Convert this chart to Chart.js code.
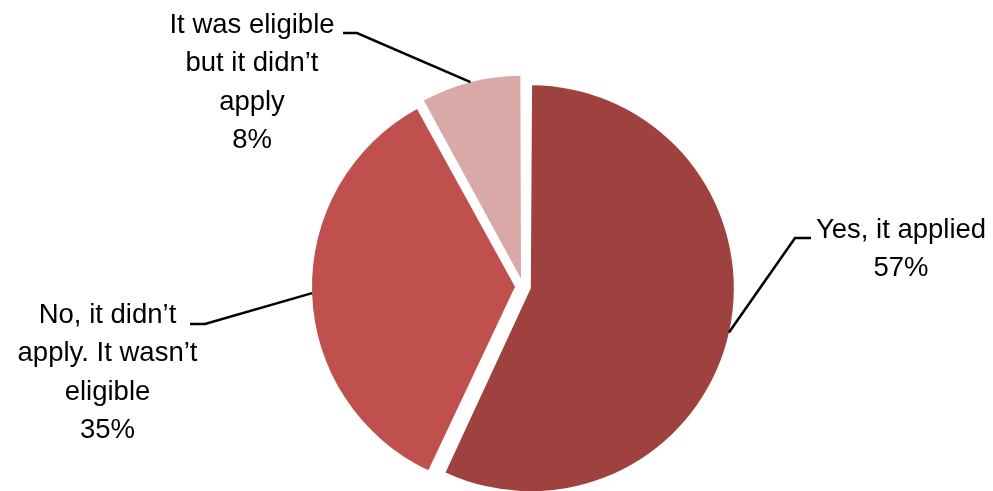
<!DOCTYPE html>
<html><head><meta charset="utf-8">
<script src="https://cdn.jsdelivr.net/npm/chart.js@4"></script>
<style>html,body{margin:0;padding:0;background:#fff}#wrap{width:993px;height:491px;position:relative}</style>
</head><body><div id="wrap"><canvas id="c" width="993" height="491"></canvas></div>
<script>
const categories = ["Yes, it applied", "No, it didn’t apply. It wasn’t eligible", "It was eligible but it didn’t apply"];
const values = [57, 35, 8];
const labelLines = [["Yes, it applied"], ["No, it didn’t", "apply. It wasn’t", "eligible"], ["It was eligible", "but it didn’t", "apply"]];
const colors = ["#9E413F", "#C0504D", "#D9A9A8"];

const EXPLODE = 8, R = 203, LINE_H = 38.4;
const FONT = '27.5px "Liberation Sans", Arial, sans-serif';
// label layout: text centre x, first baseline y, leader start (text side) and elbow
const labelLayout = [
  {x: 901, y: 238, sx: 811, sy: 238, ex: 795, ey: 238},
  {x: 107.5, y: 323, sx: 190, sy: 324, ex: 205, ey: 324},
  {x: 252, y: 33, sx: 343, sy: 33, ex: 357, ey: 33}
];

const explodeFix = {
  id: 'explodeFix',
  afterDatasetUpdate(chart, args) {
    const meta = chart.getDatasetMeta(args.index);
    meta.data.forEach(arc => {
      const c = arc.endAngle - arc.startAngle;
      const fix = 1 - Math.sin(Math.min(Math.PI, c));
      arc.outerRadius = R - EXPLODE * fix;
    });
  }
};

const pieLabels = {
  id: 'pieLabels',
  afterDraw(chart) {
    const ctx = chart.ctx;
    const meta = chart.getDatasetMeta(0);
    ctx.save();
    meta.data.forEach((arc, i) => {
      const h = (arc.startAngle + arc.endAngle) / 2;
      const ax = arc.x + Math.cos(h) * (EXPLODE + R);
      const ay = arc.y + Math.sin(h) * (EXPLODE + R);
      const L = labelLayout[i];
      ctx.strokeStyle = '#000';
      ctx.lineWidth = 2.5;
      ctx.beginPath();
      ctx.moveTo(L.sx, L.sy);
      ctx.lineTo(L.ex, L.ey);
      ctx.lineTo(ax, ay);
      ctx.stroke();
      ctx.fillStyle = '#000';
      ctx.font = FONT;
      ctx.textAlign = 'center';
      ctx.textBaseline = 'alphabetic';
      const lines = labelLines[i].concat([values[i] + '%']);
      lines.forEach((t, k) => ctx.fillText(t, L.x, L.y + k * LINE_H));
    });
    ctx.restore();
  }
};

new Chart(document.getElementById('c'), {
  type: 'pie',
  data: {
    labels: categories,
    datasets: [{
      data: values,
      backgroundColor: colors,
      borderWidth: 0,
      offset: EXPLODE * 4,
      hoverOffset: EXPLODE * 4
    }]
  },
  options: {
    responsive: false,
    animation: false,
    events: [],
    radius: R,
    layout: {padding: {left: 53, top: 82, right: 0, bottom: 0}},
    plugins: {legend: {display: false}, tooltip: {enabled: false}}
  },
  plugins: [explodeFix, pieLabels]
});
</script>
</body></html>
